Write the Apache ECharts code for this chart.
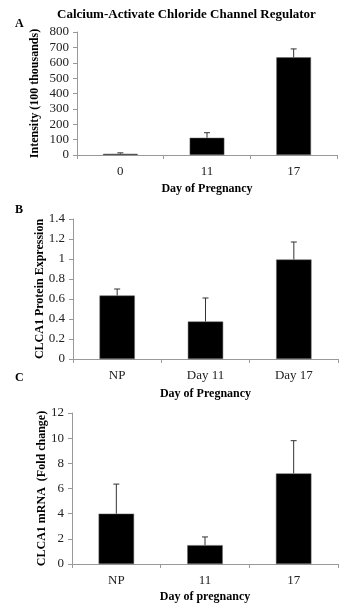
<!DOCTYPE html>
<html><head><meta charset="utf-8">
<script src="https://cdn.jsdelivr.net/npm/echarts@6/dist/echarts.min.js"></script>
<style>html,body{margin:0;padding:0;background:#fff}#c{width:339px;height:607px}</style>
</head><body><div id="c"></div>
<script>
const catsA = ['0', '11', '17'];
const valsA = [8, 112, 635];
const errA = [14, 145, 690];
const catsB = ['NP', 'Day 11', 'Day 17'];
const valsB = [0.635, 0.375, 0.995];
const errB = [0.70, 0.61, 1.17];
const catsC = ['NP', '11', '17'];
const valsC = [4.0, 1.5, 7.2];
const errC = [6.35, 2.15, 9.8];
const ticksA = {min: 0, max: 800, interval: 100};
const ticksB = {min: 0, max: 1.4, interval: 0.2};
const ticksC = {min: 0, max: 12, interval: 2};

const F = 'Liberation Serif, Times New Roman, serif';
const grids = [
  {left: 77, right: 2, top: 32, height: 123},
  {left: 73, right: 1, top: 219, height: 140},
  {left: 72, right: 1, top: 413, height: 151}
];
const chart = echarts.init(document.getElementById('c'), null, {renderer: 'canvas'});
function xAxis(i, cats, name, gap) {
  return {type: 'category', gridIndex: i, data: cats, name: name, nameLocation: 'middle', nameGap: gap,
    nameTextStyle: {fontFamily: F, fontWeight: 'bold', fontSize: 12, color: '#000'},
    axisLine: {lineStyle: {color: '#999', width: 1}},
    axisTick: {show: true, length: 4, lineStyle: {color: '#999'}},
    axisLabel: {fontFamily: F, fontSize: 13, color: '#222', margin: 10}};
}
function yAxis(i, t, name, gap) {
  return {type: 'value', gridIndex: i, min: t.min, max: t.max, interval: t.interval, name: name,
    nameLocation: 'middle', nameGap: gap, nameRotate: 90, nameMoveOverlap: false,
    nameTextStyle: {fontFamily: F, fontWeight: 'bold', fontSize: 12, color: '#000'},
    axisLine: {show: true, lineStyle: {color: '#999', width: 1}},
    axisTick: {show: true, length: 4, lineStyle: {color: '#999'}},
    splitLine: {show: false},
    axisLabel: {fontFamily: F, fontSize: 13, color: '#222', margin: 8}};
}
function bars(i, vals) {
  return {type: 'bar', xAxisIndex: i, yAxisIndex: i, data: vals, barWidth: '40%',
    itemStyle: {color: '#000', borderColor: '#666', borderWidth: 0.5}, silent: true, z: 2};
}
function errs(i, vals, tops) {
  return {type: 'custom', xAxisIndex: i, yAxisIndex: i, silent: true, z: 3,
    data: vals.map((v, k) => [k, v, tops[k]]),
    renderItem: function (params, api) {
      const p0 = api.coord([api.value(0), api.value(1)]);
      const p1 = api.coord([api.value(0), api.value(2)]);
      const st = {stroke: '#333', lineWidth: 1};
      return {type: 'group', children: [
        {type: 'line', shape: {x1: p0[0], y1: p0[1], x2: p1[0], y2: p1[1]}, style: st},
        {type: 'line', shape: {x1: p1[0] - 3, y1: p1[1], x2: p1[0] + 3, y2: p1[1]}, style: st}
      ]};
    }};
}
const letter = (txt, x, y) => ({text: txt, left: x, top: y, textStyle: {fontFamily: F, fontWeight: 'bold', fontSize: 12, color: '#000'}});
chart.setOption({
  animation: false,
  title: [
    {text: 'Calcium-Activate Chloride Channel Regulator', left: 52, top: 3,
      textStyle: {fontFamily: F, fontWeight: 'bold', fontSize: 13, color: '#000'}},
    letter('A', 10, 13), letter('B', 10, 199), letter('C', 10, 367)
  ],
  grid: grids,
  xAxis: [xAxis(0, catsA, 'Day of Pregnancy', 28), xAxis(1, catsB, 'Day of Pregnancy', 29), xAxis(2, catsC, 'Day of pregnancy', 27)],
  yAxis: [yAxis(0, ticksA, 'Intensity (100 thousands)', 36), yAxis(1, ticksB, 'CLCA1 Protein Expression', 27), yAxis(2, ticksC, 'CLCA1 mRNA  (Fold change)', 24)],
  series: [bars(0, valsA), errs(0, valsA, errA), bars(1, valsB), errs(1, valsB, errB), bars(2, valsC), errs(2, valsC, errC)]
});
</script></body></html>
